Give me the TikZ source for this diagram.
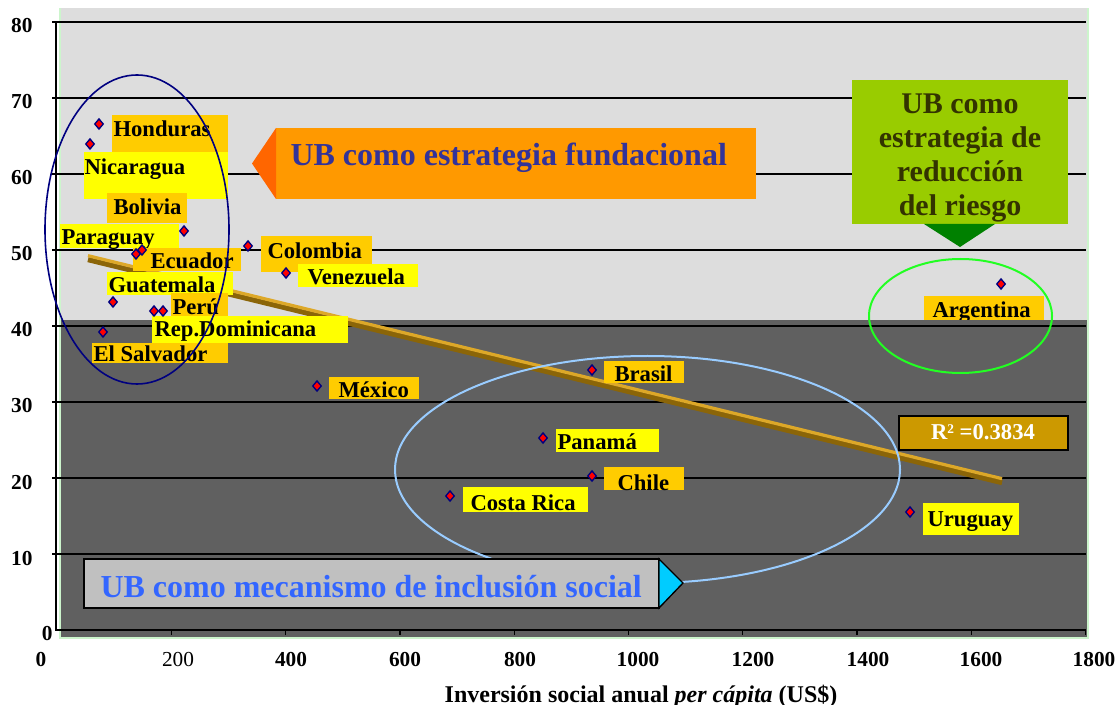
\documentclass[tikz,border=0pt]{standalone}
\usepackage{fontspec}
\setmainfont{Liberation Serif}
\usetikzlibrary{shapes.geometric}

\definecolor{bglight}{HTML}{DDDDDD}
\definecolor{bgdark}{HTML}{606060}
\definecolor{lblyellow}{HTML}{FFFF00}
\definecolor{lblgold}{HTML}{FFCC00}
\definecolor{ptred}{HTML}{FF0000}
\definecolor{ptnavy}{HTML}{000080}
\definecolor{ellsky}{HTML}{99CCFF}
\definecolor{ellgreen}{HTML}{22FF22}
\definecolor{fundfill}{HTML}{FF9900}
\definecolor{fundtip}{HTML}{FF6600}
\definecolor{fundtext}{HTML}{333399}
\definecolor{riskfill}{HTML}{99CC00}
\definecolor{risktip}{HTML}{008000}
\definecolor{risktext}{HTML}{333300}
\definecolor{inclfill}{HTML}{C0C0C0}
\definecolor{incltext}{HTML}{3366FF}
\definecolor{incltip}{HTML}{00CCFF}
\definecolor{rsqfill}{HTML}{CC9900}
\definecolor{trendlight}{HTML}{DDA828}
\definecolor{trenddark}{HTML}{8B6508}
\definecolor{plotedge}{HTML}{CCF5CC}

\tikzset{every picture/.style={line width=0.75pt}}
\tikzset{
  dot/.style={diamond, draw=ptnavy, fill=ptred, line width=1pt, inner sep=0pt, minimum width=6.8pt, minimum height=8pt},
  lbl/.style={anchor=base west, inner sep=0pt, font=\fontsize{17}{20}\selectfont\bfseries},
  tick/.style={inner sep=0pt, font=\fontsize{16}{19}\selectfont\bfseries},
  gridln/.style={draw=black, line width=0.8pt},
  callout/.style={anchor=base west, inner sep=0pt, font=\fontsize{24}{28}\selectfont\bfseries}
}

\begin{document}
\begin{tikzpicture}[x=0.75pt,y=0.75pt,yscale=-1,xscale=1]
\useasboundingbox (0,0) rectangle (1120,705);

%Shape: Rectangle [plot area]
\fill[bglight] (60,8) rectangle (1088,638);
\draw[plotedge, line width=1pt] (60,8) -- (60,638) -- (1088,638) -- (1088,8);

%Label clipped by the dark band
\begin{scope}
\clip (0,0) rectangle (1120,320);
\fill[lblgold] (924,296) rectangle (1044,322);
\draw (932,318) node [lbl] (l-argentina) {Argentina};
\end{scope}

%Shape: Rectangle [dark band]
\fill[bgdark] (60,320) rectangle (1088,638);
\draw[plotedge, line width=1pt] (60,320) -- (60,638) -- (1088,638) -- (1088,320);

%Grid lines
\foreach \v in {1,...,8}
  \draw[gridln] (52,630-\v*76) -- (1086,630-\v*76);

%Axes
\draw[line width=1pt] (56,22) -- (56,630) -- (1086,630);
\foreach \k in {1,...,9}
  \draw[line width=1pt] (57+114.3*\k,630) -- (57+114.3*\k,635);

%Axis labels
\foreach \v/\lab in {1/10,2/20,3/30,4/40,5/50,6/60,7/70,8/80}
  \draw (33,641-\v*76) node [tick, anchor=base east] {\lab};
\draw (53,640) node [tick, anchor=base east] (y-zero) {0};
\draw (41,666) node [tick, anchor=base] (x-zero) {0};
\draw (178,666) node [tick, anchor=base, font=\fontsize{16}{19}\selectfont\mdseries] {200};
\foreach \xx/\lab in {291/400,405/600,520/800,638/1000,753/1200,868/1400,981/1600,1094/1800}
  \draw (\xx,666) node [tick, anchor=base] {\lab};
\draw (641,702) node [anchor=base, inner sep=0pt, font=\fontsize{18}{21}\selectfont\bfseries] (xtitle) {Inversión social anual \textit{per cápita} (US\$)};

% Connection [trend line]
\coordinate (t-start) at (88,257);
\coordinate (t-end) at (1002,480);
\draw[trenddark, line width=3.8pt] ([yshift=2]t-start) -- ([yshift=2]t-end);
\draw[trendlight, line width=2.4pt] ([yshift=-1]t-start) -- ([yshift=-1]t-end);

% Text Node [labels]
\fill[lblgold] (112,115) rectangle (228,152);
\draw (113,137) node [lbl] (l-honduras) {Honduras};
\fill[lblyellow] (84,152) rectangle (228,199);
\draw (84,175) node [lbl] (l-nicaragua) {Nicaragua};
\fill[lblgold] (107,193) rectangle (187,223);
\draw (113,215) node [lbl] (l-bolivia) {Bolivia};
\fill[lblyellow] (60,224) rectangle (179,248);
\draw (61,245) node [lbl] (l-paraguay) {Paraguay};
\fill[lblgold] (133,248) rectangle (241,271);
\draw (150,269) node [lbl] (l-ecuador) {Ecuador};
\fill[lblgold] (261,236) rectangle (372,272);
\draw (267,259) node [lbl] (l-colombia) {Colombia};
\fill[lblyellow] (298,264) rectangle (418,287);
\draw (307,285) node [lbl] (l-venezuela) {Venezuela};
\fill[lblyellow] (107,272) rectangle (233,295);
\draw (108,293) node [lbl] (l-guatemala) {Guatemala};
\fill[lblgold] (171,293) rectangle (228,316);
\draw (172,315) node [lbl] (l-peru) {Perú};
\fill[lblyellow] (152,316) rectangle (348,343);
\draw (154,337) node [lbl] (l-repdom) {Rep.Dominicana};
\fill[lblgold] (92,343) rectangle (228,363);
\draw (93,362) node [lbl] (l-salvador) {El Salvador};
\fill[lblgold] (329,377) rectangle (419,399);
\draw (338,398) node [lbl] (l-mexico) {México};
\fill[lblgold] (604,361) rectangle (684,383);
\draw (614,382) node [lbl] (l-brasil) {Brasil};
\fill[lblyellow] (556,429) rectangle (659,452);
\draw (557,450) node [lbl] (l-panama) {Panamá};
\fill[lblgold] (604,467) rectangle (684,490);
\draw (617,490) node [lbl] (l-chile) {Chile};
\fill[lblyellow] (463,487) rectangle (588,512);
\draw (470,510) node [lbl] (l-costarica) {Costa Rica};
\fill[lblyellow] (923,503) rectangle (1019,535);
\draw (927,526) node [lbl] (l-uruguay) {Uruguay};

% Data points
\node[dot] (p-honduras) at (99,124) {};
\node[dot] (p-nicaragua) at (90,144) {};
\node[dot] (p-bolivia) at (184,231) {};
\node[dot] (p-paraguay) at (136,254) {};
\node[dot] (p-ecuador) at (142,250) {};
\node[dot] (p-colombia) at (248,246) {};
\node[dot] (p-venezuela) at (286,273) {};
\node[dot] (p-guatemala) at (113,302) {};
\node[dot] (p-repdom) at (154,311) {};
\node[dot] (p-peru) at (163,311) {};
\node[dot] (p-salvador) at (103,332) {};
\node[dot] (p-mexico) at (317,386) {};
\node[dot] (p-brasil) at (592,370) {};
\node[dot] (p-panama) at (543,438) {};
\node[dot] (p-chile) at (592,476) {};
\node[dot] (p-costarica) at (450,496) {};
\node[dot] (p-argentina) at (1001,284) {};
\node[dot] (p-uruguay) at (910,512) {};

%Shape: Ellipse
\draw[ptnavy, line width=1.2pt] (137,229.5) ellipse [x radius=92, y radius=154.5];
\draw[ellsky, line width=1.5pt] (647.5,469.5) ellipse [x radius=252.5, y radius=113.5];
\draw[ellgreen, line width=1.5pt] (960.5,316) ellipse [x radius=91.5, y radius=57];

%Shape: Left Arrow Callout
\fill[fundfill] (276,128) rectangle (756,199);
\fill[fundtip] (252,163.5) -- (276,128) -- (276,199) -- cycle;
\draw (290,166) node [callout, text=fundtext] (fundacional) {UB como estrategia fundacional};

%Shape: Down Arrow Callout
\fill[riskfill] (852,80) rectangle (1068,224);
\fill[risktip] (924,224) -- (995,224) -- (960,247) -- cycle;
\draw (960,93) node [anchor=north, inner sep=0pt, align=center, text=risktext, font=\fontsize{22.5}{25.5}\selectfont\bfseries] (riesgo) {UB como\\estrategia de\\reducción\\del riesgo};

%Shape: Right Arrow Callout
\draw[fill=inclfill, line width=1.2pt] (84,559) rectangle (659,608);
\draw[fill=incltip, line width=1pt] (659,559) -- (683,583) -- (659,608) -- cycle;
\draw (100,597) node [callout, text=incltext] (inclusion) {UB como mecanismo de inclusión social};

%Shape: Rectangle [R squared]
\draw[fill=rsqfill, line width=1.2pt] (899,416) rectangle (1068,450);
\draw (983,440) node [anchor=base, inner sep=0pt, text=white, font=\fontsize{17}{20}\selectfont\bfseries] (rsq) {R\raisebox{4.5pt}{\fontsize{10}{10}\selectfont 2} =0.3834};

\end{tikzpicture}
\end{document}
